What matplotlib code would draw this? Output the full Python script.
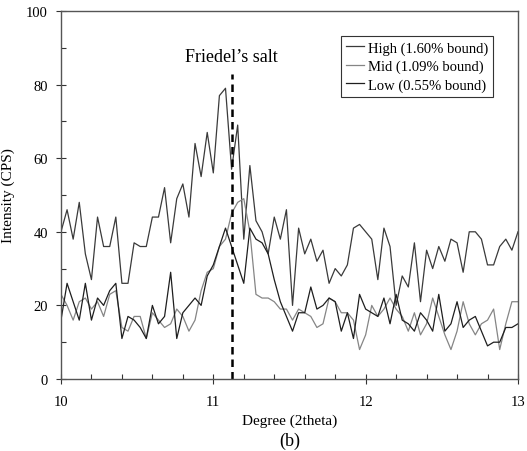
import numpy as np
import matplotlib
matplotlib.use("Agg")
from matplotlib import pyplot as plt
from matplotlib.ticker import MultipleLocator

# 2theta grid, 0.04 deg steps
theta = np.round(np.arange(10.0, 13.0001, 0.04), 2)

high = [40, 46, 38, 48, 34, 27, 44, 36, 36, 44, 26, 26, 37, 36, 36, 44,
        44, 52, 37, 49, 53, 44, 64, 55, 67, 56, 77, 79, 57, 69, 38, 58,
        43, 40, 34, 44, 38, 46, 20, 41, 34, 38, 32, 35, 26, 30, 28, 31,
        41, 42, 40, 38, 27, 41, 36, 20, 28, 25, 37, 21, 35, 30, 36, 32,
        38, 37, 29, 40, 40, 38, 31, 31, 36, 38, 35, 40]
mid = [23, 20, 16, 21, 22, 19, 21, 17, 23, 24,
       14, 13, 17, 17, 11, 18, 16, 14, 15, 19,
       17, 13, 16, 24, 29, 30, 36,
       38, 45, 48, 49, 40, 23, 22, 22, 21, 19,
       19, 16, 19, 18, 17, 14, 15, 22, 21, 18, 18, 16, 8,
       12, 20, 17, 19, 22, 19, 17, 13, 18, 12, 15, 22,
       17, 12, 8, 13, 21, 15, 12, 15, 16, 19, 8, 15, 21, 21]
low = [16, 26, 21, 16, 26, 16, 22, 20, 24, 26,
       11, 17, 16, 14, 11, 20, 15, 17, 29, 11,
       18, 20, 22, 20, 28, 31, 36,
       41, 36, 31, 26, 41, 38, 37, 34, 27, 21,
       17, 13, 18, 18, 25, 19, 20, 22, 21, 13, 18, 11, 23,
       19, 18, 17, 22, 15, 23, 16, 15, 13, 18, 16, 13,
       23, 13, 15, 21, 14, 16, 17, 13, 9, 10, 10, 14, 14, 15]

friedel_pos = 11.12

plt.rcParams['font.family'] = ['Liberation Serif', 'DejaVu Serif']

fig = plt.figure(figsize=(5.27, 4.52), dpi=100)
ax = fig.add_axes([0.1157, 0.1593, 0.8672, 0.8142])

ax.plot(theta, high, color='#3a3a3a', lw=0.9, label='High (1.60% bound)')
ax.plot(theta, mid, color='#858585', lw=0.9, label='Mid (1.09% bound)')
ax.plot(theta, low, color='#1e1e1e', lw=0.9, label='Low (0.55% bound)')

ax.plot([friedel_pos, friedel_pos], [0, 83], color='black', lw=1.8,
        ls=(0, (3, 2)))
ax.text(friedel_pos, 87.5, 'Friedel\u2019s salt', ha='center', va='center',
        fontsize=13)

ax.set_xlim(10, 13)
ax.set_ylim(0, 100)
ax.xaxis.set_major_locator(MultipleLocator(1))
ax.xaxis.set_minor_locator(MultipleLocator(0.2))
ax.yaxis.set_major_locator(MultipleLocator(20))
ax.yaxis.set_minor_locator(MultipleLocator(10))
ax.tick_params(which='major', direction='inout', length=7, width=0.8,
               labelsize=10.5, colors='#333333', labelcolor='black')
ax.tick_params(which='minor', direction='in', length=3.5, width=0.8,
               colors='#333333')
ax.tick_params(axis='x', pad=8)
ax.tick_params(axis='y', pad=6)
for s in ax.spines.values():
    s.set_color('#555555')
    s.set_linewidth(1.0)

ax.set_ylabel('Intensity (CPS)', fontsize=11, labelpad=8)
ax.set_xlabel('Degree (2theta)', fontsize=11, labelpad=4)
fig.text(0.55, 0.024, '(b)', ha='center', va='center', fontsize=13)

leg = ax.legend(loc='upper right', bbox_to_anchor=(0.946, 0.932),
                fontsize=10.5, handlelength=1.2, handletextpad=0.3,
                borderpad=0.35, labelspacing=0.35, fancybox=False,
                framealpha=1, borderaxespad=0)
leg.get_frame().set_edgecolor('#333333')
leg.get_frame().set_linewidth(0.8)

fig.savefig('out.png', dpi=100)
